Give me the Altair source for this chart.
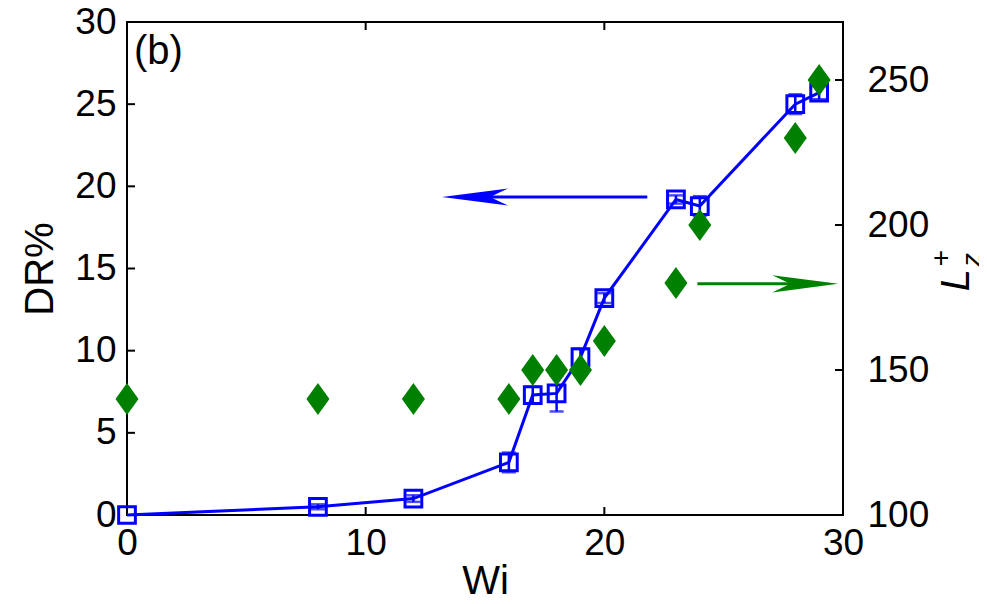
import altair as alt
import pandas as pd

# ---- data ----
wi = [0, 8, 12, 16, 17, 18, 19, 20, 23, 24, 28, 29]
dr = [0.0, 0.5, 1.0, 3.2, 7.3, 7.4, 9.6, 13.2, 19.2, 18.8, 25.0, 25.7]
dr_err = [0.0, 0.15, 0.2, 0.6, 0.5, 1.1, 0.5, 0.3, 0.25, 0.6, 0.6, 0.4]
lz = [140, 140, 140, 140, 150, 150, 150, 160, 180, 200, 230, 250]

x_ticks = [0, 10, 20, 30]
dr_ticks = [0, 5, 10, 15, 20, 25, 30]
lz_ticks = [100, 150, 200, 250]

# annotation arrows (data coordinates)
blue_arrow = {"x_tail": [21.8], "x_line_end": [15.0], "x_tip": [13.2], "y": [19.35]}
green_arrow = {"x_tail": [23.9], "x_line_end": [29.0], "x_tip": [29.8], "y": [179.7]}

FONT = "Liberation Sans"
BLUE = "#0000ff"
GREEN = "#008000"
W, H = 716, 493

df = pd.DataFrame({"wi": wi, "dr": dr, "err": dr_err, "lz": lz})
df["lo"] = df["dr"] - df["err"]
df["hi"] = df["dr"] + df["err"]
df_err = df[df["err"] > 0]

xs = alt.Scale(domain=[0, 30], nice=False, zero=False)
ys = alt.Scale(domain=[0, 30], nice=False, zero=False)
yr = alt.Scale(domain=[100, 270], nice=False, zero=False)

x_axis = alt.Axis(values=x_ticks, labelPadding=10, titlePadding=0, title="Wi", labelFlush=False)
left_axis = alt.Axis(values=dr_ticks, labelPadding=11, titlePadding=14, title="DR%", labelFlush=False)
right_axis = alt.Axis(values=lz_ticks, orient="right", labelPadding=24, title="", labelFlush=False)


def X(field):
    return alt.X(field, type="quantitative", scale=xs, axis=x_axis)


def YL(field):
    return alt.Y(field, type="quantitative", scale=ys, axis=left_axis)


def YR(field):
    return alt.Y(field, type="quantitative", scale=yr, axis=right_axis)


base = alt.Chart(df)

line = base.mark_line(color=BLUE, strokeWidth=3).encode(x=X("wi"), y=YL("dr"))
err_rule = alt.Chart(df_err).mark_rule(color=BLUE, strokeWidth=2.5).encode(
    x=X("wi"), y=YL("lo"), y2="hi")
cap_lo = alt.Chart(df_err).mark_tick(color=BLUE, orient="horizontal", size=14, thickness=2.5).encode(
    x=X("wi"), y=YL("lo"))
cap_hi = alt.Chart(df_err).mark_tick(color=BLUE, orient="horizontal", size=14, thickness=2.5).encode(
    x=X("wi"), y=YL("hi"))
squares = base.mark_point(shape="square", size=280, filled=False, color=BLUE,
                          strokeWidth=3, opacity=1).encode(x=X("wi"), y=YL("dr"))

# inward ticks
left_ticks = alt.Chart(pd.DataFrame({"v": dr_ticks[1:-1]})).mark_rule(color="black", strokeWidth=2).encode(
    y=YL("v"), x=alt.value(0), x2=alt.value(8))
bottom_ticks = alt.Chart(pd.DataFrame({"v": x_ticks[1:-1]})).mark_rule(color="black", strokeWidth=2).encode(
    x=X("v"), y=alt.value(H), y2=alt.value(H - 8))
top_ticks = alt.Chart(pd.DataFrame({"v": x_ticks[1:-1]})).mark_rule(color="black", strokeWidth=2).encode(
    x=X("v"), y=alt.value(0), y2=alt.value(8))

# blue arrow (points to the left axis)
ba = pd.DataFrame(blue_arrow)
ba_line = alt.Chart(ba).mark_rule(color=BLUE, strokeWidth=3).encode(
    x=X("x_line_end"), x2="x_tail", y=YL("y"))
ba_head = alt.Chart(ba).mark_point(
    shape="M 0 0 L 2 -0.26 L 1.45 0 L 2 0.26 Z", size=4356, filled=True,
    color=BLUE, opacity=1, strokeWidth=0).encode(x=X("x_tip"), y=YL("y"))

label_b = alt.Chart(pd.DataFrame({"t": ["(b)"]})).mark_text(
    font=FONT, fontSize=40, align="left", baseline="middle", color="black").encode(
    x=alt.value(7), y=alt.value(30), text="t:N")

dr_group = alt.layer(left_ticks, bottom_ticks, top_ticks, line, err_rule, cap_lo, cap_hi,
                     squares, ba_line, ba_head, label_b)

# right axis group
diamonds = base.mark_point(shape="M 0 -1 L 0.72 0 L 0 1 L -0.72 0 Z", size=1024, filled=True,
                           color=GREEN, opacity=1, strokeWidth=0).encode(x=X("wi"), y=YR("lz"))
right_ticks = alt.Chart(pd.DataFrame({"v": lz_ticks[1:]})).mark_rule(color="black", strokeWidth=2).encode(
    y=YR("v"), x=alt.value(W), x2=alt.value(W - 8))
ga = pd.DataFrame(green_arrow)
ga_line = alt.Chart(ga).mark_rule(color=GREEN, strokeWidth=3).encode(
    x=X("x_tail"), x2="x_line_end", y=YR("y"))
ga_head = alt.Chart(ga).mark_point(
    shape="M 0 0 L -2 -0.26 L -1.45 0 L -2 0.26 Z", size=4356, filled=True,
    color=GREEN, opacity=1, strokeWidth=0).encode(x=X("x_tip"), y=YR("y"))

t_L = alt.Chart(pd.DataFrame({"t": ["L"]})).mark_text(
    font=FONT, fontSize=40, fontStyle="italic", angle=270, align="center", baseline="middle",
    color="black").encode(x=alt.value(830), y=alt.value(258), text="t:N")
t_plus = alt.Chart(pd.DataFrame({"t": ["+"]})).mark_text(
    font=FONT, fontSize=28, angle=270, align="center", baseline="middle",
    color="black").encode(x=alt.value(815), y=alt.value(236), text="t:N")
t_z = alt.Chart(pd.DataFrame({"t": ["z"]})).mark_text(
    font=FONT, fontSize=28, fontStyle="italic", angle=270, align="center", baseline="middle",
    color="black").encode(x=alt.value(846), y=alt.value(238), text="t:N")

lz_group = alt.layer(right_ticks, diamonds, ga_line, ga_head, t_L, t_plus, t_z)

chart = alt.layer(dr_group, lz_group).resolve_scale(y="independent").properties(
    width=W, height=H, autosize="none",
    padding={"left": 119, "top": 14, "right": 136, "bottom": 81},
).configure_view(stroke="black", strokeWidth=2).configure_axis(
    labelFont=FONT, labelFontSize=37, labelColor="black",
    titleFont=FONT, titleFontSize=40, titleFontWeight="normal", titleColor="black",
    domain=False, ticks=False, grid=False,
)

chart.save("out.html", embed_options={"renderer": "svg", "actions": False})
